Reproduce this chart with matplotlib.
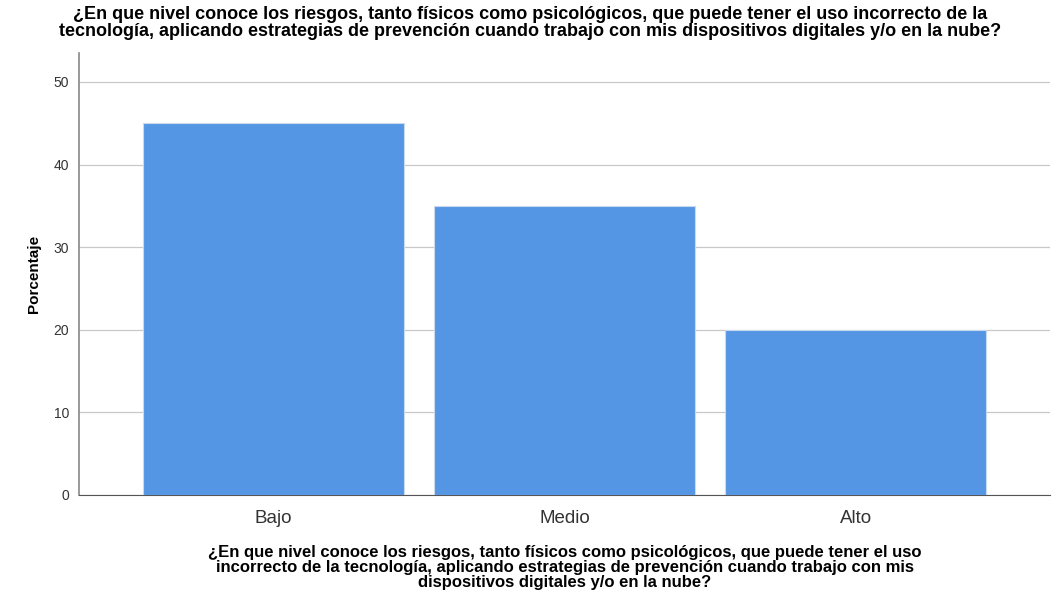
import matplotlib
matplotlib.use("Agg")
import matplotlib.pyplot as plt

# data
categories = ["Bajo", "Medio", "Alto"]
percentages = [45, 35, 20]
y_ticks = [0, 10, 20, 30, 40, 50]

question = ("¿En que nivel conoce los riesgos, tanto físicos como psicológicos, que puede tener el uso incorrecto de la\n"
            "tecnología, aplicando estrategias de prevención cuando trabajo con mis dispositivos digitales y/o en la nube?")
x_title = ("¿En que nivel conoce los riesgos, tanto físicos como psicológicos, que puede tener el uso\n"
           "incorrecto de la tecnología, aplicando estrategias de prevención cuando trabajo con mis\n"
           "dispositivos digitales y/o en la nube?")

plt.rcParams['font.family'] = ['Liberation Sans', 'DejaVu Sans']

fig = plt.figure(figsize=(10.54, 6.04), dpi=100)
ax = fig.add_axes([79 / 1054, 1 - 495 / 604, (1050 - 79) / 1054, (495 - 53) / 604])

x = list(range(len(categories)))
ax.bar(x, percentages, width=0.895, color="#5596e4", edgecolor="#c9d9ee", linewidth=0.8, zorder=3)

ax.set_xlim(-0.667, 2.667)
ax.set_ylim(0, 53.5)
ax.set_yticks(y_ticks)
ax.set_xticks(x)
ax.set_xticklabels(categories, fontsize=13.5, color="#333333")
ax.tick_params(axis='y', labelsize=10, length=0, pad=7, labelcolor="#333333")
ax.tick_params(axis='x', length=0, pad=11)
ax.grid(axis='y', color="#c8c8c8", linewidth=0.9, zorder=0)

for s in ["top", "right"]:
    ax.spines[s].set_visible(False)
ax.spines["left"].set_color("#888888")
ax.spines["left"].set_linewidth(1.2)
ax.spines["bottom"].set_color("#555555")

ax.set_ylabel("Porcentaje", fontsize=11, fontweight="bold", labelpad=9)
ax.set_xlabel(x_title, fontsize=12, fontweight="bold", labelpad=13, linespacing=0.98)

fig.text(530 / 1054, 1 - 23 / 604, question, ha="center", va="center", fontsize=13,
         fontweight="bold", linespacing=1.0)

fig.savefig("out.png", dpi=100)
